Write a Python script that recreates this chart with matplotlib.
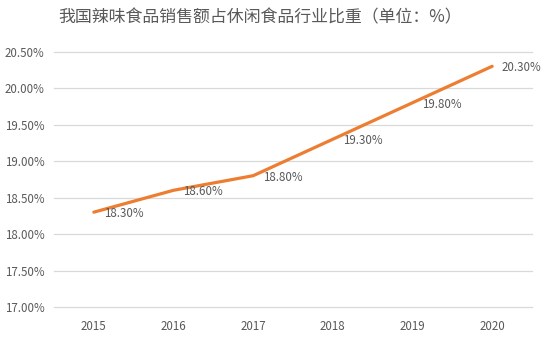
import matplotlib
matplotlib.use("Agg")
import matplotlib.pyplot as plt
import matplotlib.ticker as ticker

plt.rcParams["font.family"] = ["Noto Sans CJK SC", "DejaVu Sans"]

TITLE = "我国辣味食品销售额占休闲食品行业比重（单位：%）"
years = ["2015", "2016", "2017", "2018", "2019", "2020"]
share = [18.30, 18.60, 18.80, 19.30, 19.80, 20.30]
y_ticks = [17.0, 17.5, 18.0, 18.5, 19.0, 19.5, 20.0, 20.5]

TEXT = "#595959"
LINE = "#ED7D31"
GRID = "#D9D9D9"

fig = plt.figure(figsize=(5.44, 3.39), dpi=100)
ax = fig.add_axes([54 / 544, 1 - 307 / 339, (532 - 54) / 544, (307 - 51.7) / 339])

xs = list(range(len(years)))
ax.plot(xs, share, color=LINE, linewidth=2.3, solid_capstyle="round")
for x, v in zip(xs, share):
    ax.annotate(f"{v:.2f}%", (x, v), xytext=(7, -1), textcoords="offset points",
                ha="left", va="center", fontsize=8.3, color=TEXT)

ax.set_xlim(-0.5, len(years) - 0.5)
ax.set_ylim(y_ticks[0], y_ticks[-1])
ax.set_xticks(xs)
ax.set_xticklabels(years)
ax.set_yticks(y_ticks)
ax.yaxis.set_major_formatter(ticker.FuncFormatter(lambda v, _: f"{v:.2f}%"))
ax.tick_params(length=0, labelsize=8.3, labelcolor=TEXT)
ax.tick_params(axis="x", pad=9)
ax.tick_params(axis="y", pad=7)
ax.grid(True, axis="y", color=GRID, linewidth=0.9, clip_on=False)
ax.set_axisbelow(True)
for s in ax.spines.values():
    s.set_visible(False)

fig.text(260 / 544, 1 - 17 / 339, TITLE, ha="center", va="center",
         fontsize=12.2, color=TEXT)

fig.savefig("out.png", dpi=100)
